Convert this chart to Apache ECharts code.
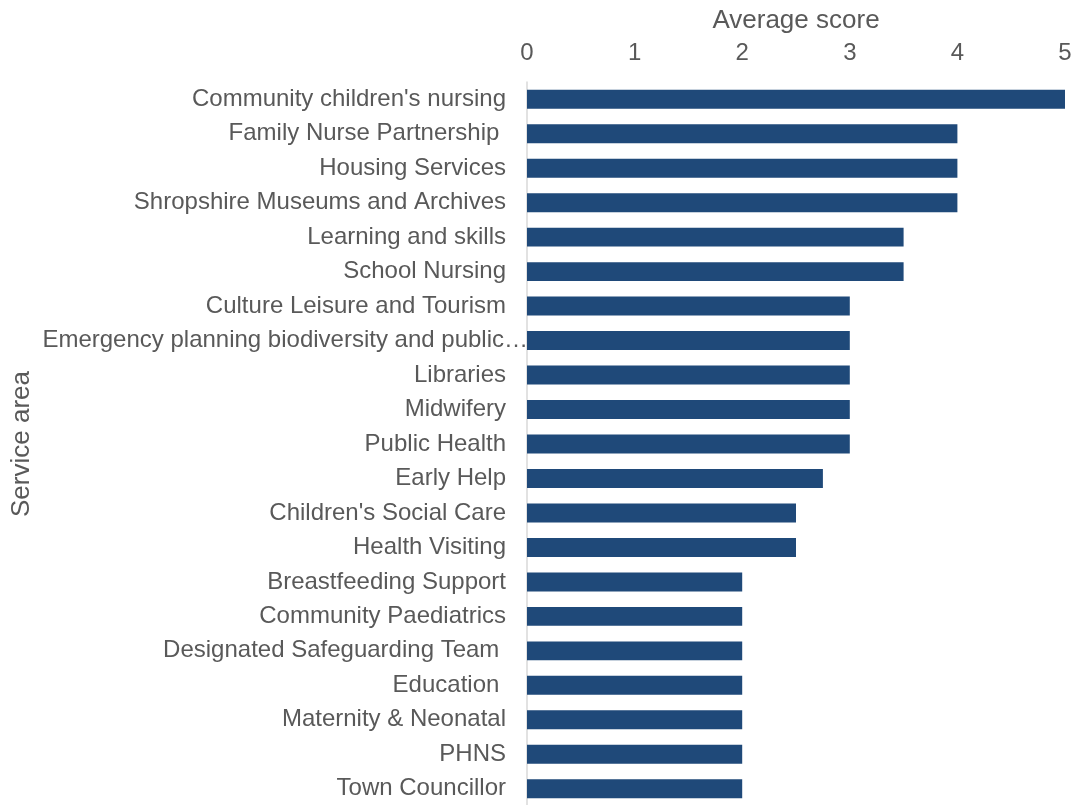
<!DOCTYPE html>
<html>
<head>
<meta charset="utf-8">
<script src="https://cdn.jsdelivr.net/npm/echarts@6/dist/echarts.min.js"></script>
<style>html,body{margin:0;padding:0;background:#fff;}#c{width:1078px;height:805px;}</style>
</head>
<body>
<div id="c"></div>
<script>
const categories = [
  "Community children's nursing",
  "Family Nurse Partnership ",
  "Housing Services",
  "Shropshire Museums and Archives",
  "Learning and skills",
  "School Nursing",
  "Culture Leisure and Tourism",
  "Emergency planning biodiversity and public…",
  "Libraries",
  "Midwifery",
  "Public Health",
  "Early Help",
  "Children's Social Care",
  "Health Visiting",
  "Breastfeeding Support",
  "Community Paediatrics",
  "Designated Safeguarding Team ",
  "Education ",
  "Maternity & Neonatal",
  "PHNS",
  "Town Councillor"
];
const scores = [5, 4, 4, 4, 3.5, 3.5, 3, 3, 3, 3, 3, 2.75, 2.5, 2.5, 2, 2, 2, 2, 2, 2, 2];
const xTicks = [0, 1, 2, 3, 4, 5];

const catData = categories.map(c => c.endsWith('…')
  ? {value: c, textStyle: {padding: [0, -22, 0, 0]}}
  : c);

const chart = echarts.init(document.getElementById('c'), null, {renderer: 'canvas'});
const font = 'Liberation Sans, Arial, sans-serif';
chart.setOption({
  animation: false,
  grid: {left: 527, right: 13, top: 82, bottom: -1, containLabel: false, outerBoundsMode: 'none'},
  xAxis: {
    type: 'value', position: 'top', min: xTicks[0], max: xTicks[xTicks.length - 1], interval: 1,
    name: 'Average score', nameLocation: 'middle', nameGap: 48, nameMoveOverlap: false,
    nameTextStyle: {color: '#595959', fontSize: 26, fontFamily: font},
    axisLine: {show: false}, axisTick: {show: false}, splitLine: {show: false},
    axisLabel: {color: '#595959', fontSize: 24, fontFamily: font, margin: 17}
  },
  yAxis: {
    type: 'category', inverse: true, data: catData,
    name: 'Service area', nameLocation: 'middle', nameGap: 492, nameRotate: 90, nameMoveOverlap: false,
    nameTextStyle: {color: '#595959', fontSize: 26, fontFamily: font},
    axisLine: {show: true, lineStyle: {color: '#d9d9d9', width: 1.5}},
    axisTick: {show: false},
    axisLabel: {color: '#595959', fontSize: 24, fontFamily: font, margin: 21}
  },
  series: [{
    type: 'bar', data: scores, barWidth: '55%',
    itemStyle: {color: '#1f4979'}
  }]
});
</script>
</body>
</html>
